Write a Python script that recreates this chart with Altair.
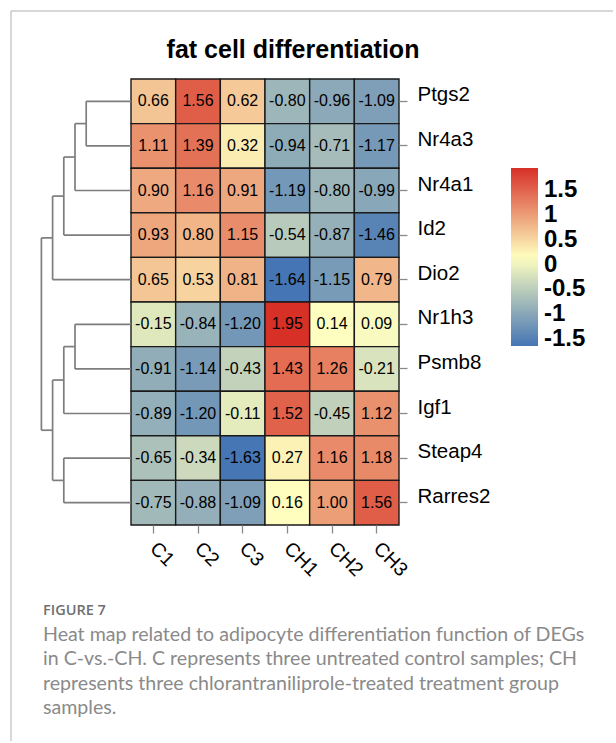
import altair as alt
import pandas as pd

genes = ["Ptgs2", "Nr4a3", "Nr4a1", "Id2", "Dio2", "Nr1h3", "Psmb8", "Igf1", "Steap4", "Rarres2"]
samples = ["C1", "C2", "C3", "CH1", "CH2", "CH3"]

ptgs2 = [0.66, 1.56, 0.62, -0.80, -0.96, -1.09]
nr4a3 = [1.11, 1.39, 0.32, -0.94, -0.71, -1.17]
nr4a1 = [0.90, 1.16, 0.91, -1.19, -0.80, -0.99]
id2 = [0.93, 0.80, 1.15, -0.54, -0.87, -1.46]
dio2 = [0.65, 0.53, 0.81, -1.64, -1.15, 0.79]
nr1h3 = [-0.15, -0.84, -1.20, 1.95, 0.14, 0.09]
psmb8 = [-0.91, -1.14, -0.43, 1.43, 1.26, -0.21]
igf1 = [-0.89, -1.20, -0.11, 1.52, -0.45, 1.12]
steap4 = [-0.65, -0.34, -1.63, 0.27, 1.16, 1.18]
rarres2 = [-0.75, -0.88, -1.09, 0.16, 1.00, 1.56]
rows = [ptgs2, nr4a3, nr4a1, id2, dio2, nr1h3, psmb8, igf1, steap4, rarres2]

# row dendrogram: merge i joins merge_left[i] and merge_right[i] at merge_height[i]
# (indices < 10 are genes, index 10 + k is the node created by merge k)
merge_left = [0, 10, 11, 12, 5, 14, 8, 15, 13]
merge_right = [1, 2, 3, 4, 6, 7, 9, 16, 17]
merge_height = [4, 5, 6, 7, 5, 6, 6, 7, 8]

legend_values = [1.5, 1, 0.5, 0, -0.5, -1, -1.5]
palette = ["#4575B4", "#FFFFBF", "#D73027"]

title_text = "fat cell differentiation"
caption_label = "FIGURE 7"
caption_lines = [
    "Heat map related to adipocyte differentiation function of DEGs",
    "in C-vs.-CH. C represents three untreated control samples; CH",
    "represents three chlorantraniliprole-treated treatment group",
    "samples.",
]

# ---------- tables ----------
recs = []
for g, vals in zip(genes, rows):
    for s, v in zip(samples, vals):
        recs.append({"gene": g, "sample": s, "value": v, "label": f"{v:.2f}"})
heat_df = pd.DataFrame(recs)

lo = min(min(r) for r in rows)
hi = max(max(r) for r in rows)
mid = (lo + hi) / 2

pos = {i: i + 0.5 for i in range(len(genes))}
hgt = {i: 0.0 for i in range(len(genes))}
segs = []
for k, (a, b, h) in enumerate(zip(merge_left, merge_right, merge_height)):
    node = len(genes) + k
    segs.append({"x": h, "x2": h, "y": pos[a], "y2": pos[b]})
    segs.append({"x": hgt[a], "x2": h, "y": pos[a], "y2": pos[a]})
    segs.append({"x": hgt[b], "x2": h, "y": pos[b], "y2": pos[b]})
    pos[node] = (pos[a] + pos[b]) / 2
    hgt[node] = h
seg_df = pd.DataFrame(segs)

W, H = 268, 446
PX_PER_UNIT = 11.2

font = "Liberation Sans"

x_enc = alt.X("sample:N", sort=samples, title=None,
              scale=alt.Scale(paddingInner=0, paddingOuter=0),
              axis=alt.Axis(labelAngle=45, labelAlign="left", labelBaseline="middle",
                            labelFontSize=19.5, labelFont=font, labelColor="black",
                            labelPadding=12, tickSize=8, tickColor="#8a8a8a", tickWidth=1.3,
                            domain=False, grid=False))
y_enc = alt.Y("gene:N", sort=genes, title=None,
              scale=alt.Scale(paddingInner=0, paddingOuter=0),
              axis=alt.Axis(orient="right", labelFontSize=20.5, labelFont=font,
                            labelColor="black", labelPadding=10, labelBaseline="alphabetic",
                            tickSize=8, tickColor="#8a8a8a", tickWidth=1.3, domain=False,
                            grid=False))

rect = alt.Chart(heat_df).mark_rect(stroke="#1a1a1a", strokeWidth=1.4).encode(
    x=x_enc,
    y=y_enc,
    color=alt.Color("value:Q", title=None,
                    scale=alt.Scale(domain=[lo, mid, hi], range=palette, interpolate="rgb"),
                    legend=alt.Legend(orient="none", legendX=380, legendY=89,
                                      direction="vertical", gradientLength=178,
                                      gradientThickness=27, gradientStrokeWidth=0,
                                      values=legend_values, labelExpr="'' + datum.value",
                                      labelFontSize=24, labelFontWeight="bold",
                                      labelFont=font, labelColor="black", labelOffset=6,
                                      labelOverlap=False)),
)
text = alt.Chart(heat_df).mark_text(fontSize=16, font=font, color="black").encode(
    x=x_enc,
    y=y_enc,
    text="label:N",
)
heat = alt.layer(rect, text)

dendro = alt.Chart(seg_df).mark_rule(color="#7d7d7d", strokeWidth=1.7).encode(
    x=alt.X("x:Q", axis=None,
            scale=alt.Scale(domain=[0, -W / PX_PER_UNIT], nice=False, zero=False)),
    x2="x2:Q",
    y=alt.Y("y:Q", axis=None,
            scale=alt.Scale(domain=[0, len(genes)], reverse=True, nice=False, zero=False)),
    y2="y2:Q",
)

frame_df = pd.DataFrame({"k": [0]})
frame_left = alt.Chart(frame_df).mark_rule(color="#b0b0b0", strokeWidth=1).encode(
    x=alt.value(-120), y=alt.value(-68), y2=alt.value(662))
frame_top = alt.Chart(frame_df).mark_rule(color="#b0b0b0", strokeWidth=1).encode(
    x=alt.value(-120), x2=alt.value(482), y=alt.value(-68))

main = alt.layer(heat, dendro, frame_left, frame_top).resolve_scale(
    x="independent", y="independent"
).properties(
    width=W, height=H,
    title=alt.TitleParams(title_text, font=font, fontSize=25, fontWeight="bold",
                          color="black", anchor="middle", dx=28, offset=-52),
)

chart = alt.vconcat(main).properties(
    title=alt.TitleParams(caption_label, subtitle=caption_lines, orient="bottom",
                          anchor="start", font="Open Sans", fontSize=14.5, fontWeight=600,
                          color="#6f6f6f", subtitleFont="Lato", subtitleFontSize=19.6,
                          subtitleColor="#8a8a8a", subtitleLineHeight=24.5,
                          subtitlePadding=7, offset=-138, dx=33),
    padding={"left": 10, "top": 10, "right": 0, "bottom": 0},
).configure_view(stroke="transparent")

chart.save("out.html", embed_options={"renderer": "svg", "actions": False})
